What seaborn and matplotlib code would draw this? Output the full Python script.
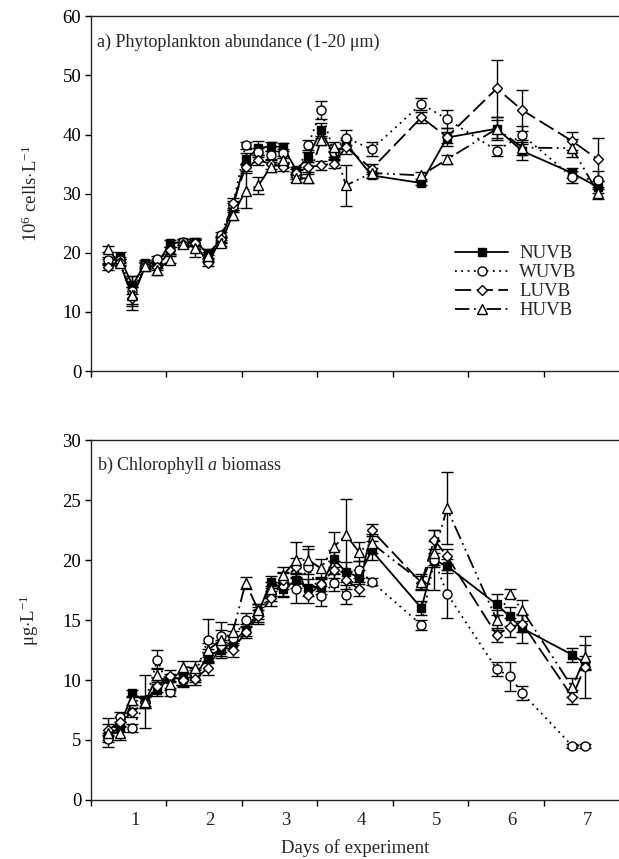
import matplotlib
matplotlib.use("Agg")
import matplotlib.pyplot as plt
import seaborn as sns
import numpy as np
import pandas as pd

# ---------------- data ----------------
series = ["NUVB", "WUVB", "LUVB", "HUVB"]

top_days = [0.22, 0.38, 0.55, 0.72, 0.88, 1.05, 1.22, 1.38, 1.55, 1.72, 1.88,
            2.05, 2.22, 2.38, 2.55, 2.72, 2.88, 3.05, 3.22, 3.38, 3.72,
            4.38, 4.72, 5.38, 5.72, 6.38, 6.72]
top_nuvb = [18.4, 19.3, 14.5, 18.3, 18.2, 21.6, 21.8, 21.9, 19.9, 22.1, 27.7,
            35.8, 37.7, 38.0, 37.9, 34.0, 36.2, 40.7, 36.5, 38.5, 33.1,
            31.8, 39.5, 41.0, 37.2, 33.5, 31.1]
top_wuvb = [18.8, 18.8, 13.5, 18.0, 18.9, 20.4, 21.8, 21.7, 19.0, 23.0, 28.0,
            38.2, 37.0, 36.5, 36.8, 33.1, 38.2, 44.1, 37.0, 39.5, 37.5,
            45.2, 42.6, 37.3, 39.9, 32.8, 32.3]
top_luvb = [17.6, 18.5, 12.3, 17.8, 17.6, 20.4, 21.5, 21.7, 18.2, 22.3, 28.4,
            34.5, 35.7, 35.0, 34.5, 33.5, 34.5, 34.8, 35.1, 37.9, 34.2,
            42.9, 39.6, 47.8, 44.1, 38.9, 35.8]
top_huvb = [20.6, 18.3, 12.8, 17.7, 17.1, 18.8, 21.5, 20.8, 19.5, 21.6, 26.4,
            30.5, 31.4, 34.5, 35.7, 32.6, 32.6, 39.0, 37.9, 31.4, 33.5,
            33.1, 35.8, 41.0, 37.8, 37.7, 30.1]
top_nuvb_err = [0.5, 0.8, 1.5, 0.5, 0.8, 0.6, 0.5, 0.6, 0.7, 0.5, 0.8, 1.0, 1.2, 0.8,
                0.7, 0.6, 0.8, 1.2, 0.8, 1.0, 0.5, 0.4, 1.0, 1.5, 1.5, 0.8, 1.0]
top_wuvb_err = [0.5, 0.5, 2.5, 0.5, 0.6, 0.6, 0.5, 0.5, 0.6, 0.5, 0.8, 0.6, 0.8, 0.8,
                0.7, 0.6, 0.8, 1.5, 0.8, 1.2, 1.2, 1.0, 1.5, 1.0, 1.5, 1.0, 1.5]
top_luvb_err = [0.5, 0.5, 2.0, 0.5, 0.5, 0.6, 0.5, 0.6, 0.5, 0.5, 0.8, 0.6, 0.8, 0.8,
                0.7, 0.6, 0.8, 0.8, 0.8, 1.2, 0.8, 1.0, 1.5, 4.8, 3.5, 1.5, 3.6]
top_huvb_err = [0.5, 0.6, 1.5, 0.8, 0.8, 0.6, 0.5, 1.5, 0.6, 0.5, 0.8, 3.0, 1.5, 0.8,
                0.7, 0.6, 0.8, 0.8, 0.8, 3.5, 0.8, 0.6, 0.8, 2.0, 1.2, 1.5, 1.0]

bot_days = [0.22, 0.38, 0.55, 0.72, 0.88, 1.05, 1.22, 1.38, 1.55, 1.72, 1.88,
            2.05, 2.22, 2.38, 2.55, 2.72, 2.88, 3.05, 3.22, 3.38, 3.55, 3.72,
            4.38, 4.55, 4.72, 5.38, 5.55, 5.72, 6.38, 6.55]
bot_nuvb = [5.3, 6.1, 8.9, 8.2, 9.2, 10.2, 10.1, 10.3, 12.0, 12.5, 13.1,
            14.2, 15.6, 18.2, 17.6, 18.3, 17.7, 17.8, 20.1, 19.0, 18.6, 20.8,
            16.0, 20.0, 19.5, 16.3, 15.3, 14.3, 12.1, 11.4]
bot_wuvb = [5.1, 6.9, 6.0, 8.2, 11.7, 9.0, 10.0, 10.5, 13.3, 13.7, 13.5,
            15.0, 15.5, 17.2, 17.9, 17.6, 19.4, 17.0, 18.1, 17.1, 19.2, 18.2,
            14.6, 20.0, 17.2, 10.9, 10.3, 8.9, 4.5, 4.5]
bot_luvb = [5.8, 6.5, 7.3, 8.2, 9.5, 10.3, 10.0, 10.1, 11.0, 12.8, 12.5,
            14.0, 15.3, 16.8, 18.3, 19.4, 17.1, 18.0, 19.2, 18.3, 17.6, 22.5,
            18.1, 21.7, 20.3, 13.75, 14.4, 14.7, 8.6, 11.1]
bot_huvb = [5.6, 5.6, 8.3, 8.2, 10.4, 9.7, 11.1, 11.0, 12.5, 13.3, 14.0,
            18.1, 15.8, 17.6, 18.75, 20.0, 20.0, 19.3, 21.1, 22.1, 20.7, 21.4,
            18.2, 20.6, 24.3, 15.0, 17.2, 15.8, 9.4, 11.9]
bot_nuvb_err = [0.3, 0.4, 0.3, 2.2, 0.5, 0.3, 0.5, 0.5, 0.6, 0.5, 0.6, 0.5, 0.5, 0.5, 0.6,
                0.6, 0.7, 0.6, 0.7, 0.8, 0.6, 0.8, 0.6, 0.6, 0.6, 0.9, 0.8, 1.2, 0.6, 0.6]
bot_wuvb_err = [0.3, 0.4, 0.3, 0.4, 0.8, 0.3, 0.6, 0.5, 1.8, 0.5, 0.6, 0.6, 0.8, 0.6, 1.0,
                1.2, 1.5, 0.8, 0.7, 0.8, 0.7, 0.3, 0.4, 2.5, 2.0, 0.6, 1.2, 0.6, 0.2, 0.2]
bot_luvb_err = [0.5, 0.4, 0.4, 0.5, 0.5, 0.5, 0.5, 0.5, 0.6, 0.5, 0.6, 0.5, 0.5, 0.6, 0.7,
                0.8, 0.7, 0.6, 0.7, 0.7, 0.6, 0.5, 0.6, 0.8, 0.6, 0.6, 0.8, 0.7, 0.6, 2.6]
bot_huvb_err = [1.2, 0.6, 0.4, 0.5, 0.6, 0.5, 0.5, 0.6, 0.6, 1.5, 0.7, 0.5, 0.5, 0.6, 0.7,
                1.5, 1.2, 0.8, 1.2, 3.0, 0.8, 0.8, 0.6, 1.0, 3.0, 0.8, 0.4, 0.9, 0.8, 1.0]

day_labels = ["1", "2", "3", "4", "5", "6", "7"]
top_yticks = [0, 10, 20, 30, 40, 50, 60]
bot_yticks = [0, 5, 10, 15, 20, 25, 30]

# ---------------- style ----------------
sns.set_theme(style="ticks")
plt.rcParams["font.family"] = ["Liberation Serif", "DejaVu Serif"]
plt.rcParams["mathtext.fontset"] = "custom"
plt.rcParams["mathtext.rm"] = "Liberation Serif"
plt.rcParams["mathtext.it"] = "Liberation Serif:italic"
plt.rcParams["axes.linewidth"] = 1.0

styles = {
    "NUVB": dict(marker="s", mfc="black", ls="-"),
    "WUVB": dict(marker="o", mfc="white", ls=(0, (1, 2.5))),
    "LUVB": dict(marker="D", mfc="white", ls=(0, (9, 3))),
    "HUVB": dict(marker="^", mfc="white", ls=(0, (8, 2.5, 1, 2.5, 1, 2.5))),
}
msize = {"NUVB": 6, "WUVB": 6.5, "LUVB": 5.5, "HUVB": 6.5}

fig = plt.figure(figsize=(6.19, 8.59), dpi=100)
ax1 = fig.add_axes([0.147, 0.568, 0.853, 0.413])
ax2 = fig.add_axes([0.147, 0.0687, 0.853, 0.419])


def draw(ax, days, vals, errs):
    for name, y, e in zip(series, vals, errs):
        ax.errorbar(days, y, yerr=e, fmt="none", ecolor="black",
                    elinewidth=1.0, capsize=4, capthick=1.0, zorder=2)
    for name, y in zip(series, vals):
        df = pd.DataFrame({"day": days, "value": y})
        st = styles[name]
        sns.lineplot(data=df, x="day", y="value", ax=ax, color="black",
                     marker=st["marker"], markerfacecolor=st["mfc"],
                     markeredgecolor="black", markeredgewidth=1.0,
                     markersize=msize[name], linestyle=st["ls"],
                     linewidth=1.3, label=name, zorder=3)


draw(ax1, top_days, [top_nuvb, top_wuvb, top_luvb, top_huvb],
     [top_nuvb_err, top_wuvb_err, top_luvb_err, top_huvb_err])
draw(ax2, bot_days, [bot_nuvb, bot_wuvb, bot_luvb, bot_huvb],
     [bot_nuvb_err, bot_wuvb_err, bot_luvb_err, bot_huvb_err])

for ax, yt, lim in [(ax1, top_yticks, 60), (ax2, bot_yticks, 30)]:
    ax.set_xlim(0, 7)
    ax.set_ylim(0, lim)
    ax.set_yticks(yt)
    ax.set_xticks(range(0, 7))
    ax.set_xticklabels([])
    ax.set_xticks([k + 0.58 for k in range(7)], minor=True)
    ax.tick_params(axis="both", which="major", direction="out", length=4,
                   width=1.0, labelsize=13.5, colors="black", pad=3)
    ax.tick_params(axis="x", which="minor", length=0, labelsize=13.5, pad=9)
    ax.spines["right"].set_visible(False)
    ax.spines["top"].set_visible(True)
    ax.set_xlabel("")
    ax.set_ylabel("")

ax1.set_xticklabels([], minor=True)
ax2.set_xticklabels(day_labels, minor=True)

ax1.text(0.011, 0.927, "a) Phytoplankton abundance (1-20 μm)",
         transform=ax1.transAxes, fontsize=13, va="center", ha="left")
ax2.text(0.011, 0.93, r"b) Chlorophyll $a$ biomass",
         transform=ax2.transAxes, fontsize=13, va="center", ha="left")

ax1.set_ylabel(r"10$^{6}$ cells$\cdot$L$^{-1}$", fontsize=13.5)
ax2.set_ylabel(r"μg$\cdot$L$^{-1}$", fontsize=13.5)
ax1.yaxis.set_label_coords(-0.095, 0.5)
ax2.yaxis.set_label_coords(-0.095, 0.5)
ax2.set_xlabel("Days of experiment", fontsize=13.5, va="center")
ax2.xaxis.set_label_coords(0.5, -0.133)

leg = ax1.legend(loc="upper left", bbox_to_anchor=(0.69, 0.355), frameon=False,
                 fontsize=13.5, handlelength=2.8, handletextpad=0.6,
                 labelspacing=0.1, borderpad=0, borderaxespad=0)
if ax2.get_legend() is not None:
    ax2.get_legend().remove()

fig.savefig("out.png", dpi=100)
